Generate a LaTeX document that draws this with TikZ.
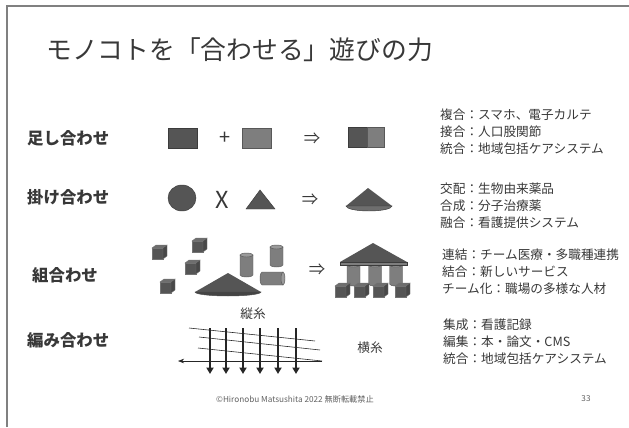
\documentclass[tikz,border=0pt]{standalone}
\usepackage{fontspec}
\setmainfont{Noto Sans CJK JP}
\usetikzlibrary{arrows.meta}

\definecolor{ink}{HTML}{383838}
\definecolor{darkblock}{HTML}{555555}
\definecolor{midblock}{HTML}{7E7E7E}
\definecolor{capface}{HTML}{9A9A9A}

\begin{document}
\begin{tikzpicture}[
	x=0.03cm, y=-0.03cm,
	>=Stealth,
	heading/.style={font=\fontsize{22}{26}\selectfont, text=ink, anchor=west, inner sep=0pt},
	kind/.style={font=\fontsize{14}{17}\selectfont\bfseries, text=ink, anchor=west, inner sep=0pt},
	examples/.style={font=\fontsize{10.8}{14.5}\selectfont, text=ink, anchor=west, align=left, inner sep=0pt},
	op/.style={font=\fontsize{14}{14}\selectfont, text=ink, inner sep=0pt},
	small/.style={font=\fontsize{7}{8}\selectfont, text=ink!80, inner sep=0pt},
	solid block/.style={fill=darkblock, draw=darkblock!70!black, line width=0.4pt},
	light block/.style={fill=midblock, draw=midblock!70!black, line width=0.4pt},
	warp/.style={-{Triangle[length=5.5pt, width=6pt]}, line width=1.6pt, draw=black!85},
	weft/.style={line width=0.5pt, draw=black!85},
	% cube: front bottom-left corner at the pic origin
	pics/block/.style={code={
		\filldraw[fill=darkblock, draw=black!55, line width=0.3pt] (0,0) rectangle (11,-11);
		\filldraw[fill=darkblock!85!white, draw=black!55, line width=0.3pt] (0,-11) -- (4,-14) -- (15,-14) -- (11,-11) -- cycle;
		\filldraw[fill=darkblock!85!black, draw=black!55, line width=0.3pt] (11,0) -- (15,-3) -- (15,-14) -- (11,-11) -- cycle;
	}},
	% upright cylinder: top centre at the pic origin, #1 = height
	pics/pillar/.style={code={
		\filldraw[light block] (-6.5,0) -- (-6.5,#1) arc (180:0:6.5 and 2) -- (6.5,0) -- cycle;
		\filldraw[fill=capface, draw=midblock!70!black, line width=0.4pt] (0,0) ellipse (6.5 and 2);
	}}
	]
	
	\useasboundingbox (0,0) rectangle (629,427);
	
	% Slide frame
	\draw[gray, line width=1.6pt] (7,427) -- (7,6) -- (629,6);
	
	% Title
	\node[heading] (title) at (46,50) {モノコトを「合わせる」遊びの力};
	
	% --- Row labels ---
	\node[kind] (add) at (27,138) {足し合わせ};
	\node[kind] (mult) at (27,197) {掛け合わせ};
	\node[kind] (assemble) at (32,275) {組合わせ};
	\node[kind] (weave) at (27,340) {編み合わせ};
	
	% --- ROW 1: two boxes side by side ---
	\filldraw[solid block] (168,128) rectangle (197,148);
	\node[op, font=\fontsize{17}{17}\selectfont] (plus) at (225,138) {+};
	\filldraw[light block] (242,128) rectangle (271,148);
	\node[op] (then1) at (312,139) {⇒};
	\filldraw[solid block] (348,127) rectangle (367,147);
	\filldraw[light block] (367,127) rectangle (384,147);
	
	% --- ROW 2: ball times triangle gives a cone ---
	\filldraw[solid block] (182,198) ellipse (14 and 13);
	\node[font=\fontsize{20}{20}\selectfont, text=ink, inner sep=0pt] (times) at (222,200) {X};
	\filldraw[solid block] (246,209) -- (260,190) -- (275,209) -- cycle;
	\node[op] (then2) at (310,200) {⇒};
	\fill[darkblock] (368,188) -- (346,206) -- (392,206) -- cycle;
	\filldraw[fill=darkblock!85!white, draw=darkblock!70!black, line width=0.4pt] (346,206) arc (180:0:23 and 5) -- cycle;
	
	% --- ROW 3: loose parts and the temple built from them ---
	\pic at (152,259) {block};
	\pic at (192,252) {block};
	\pic at (185,274) {block};
	\pic at (160,293) {block};
	
	\fill[darkblock] (228,273) -- (195,292) -- (261,292) -- cycle;
	\filldraw[fill=darkblock!80!black, draw=black!70, line width=0.4pt] (195,292) arc (180:0:33 and 4) -- cycle;
	
	\pic at (246.5,255) {pillar=20};
	\pic at (276.5,247) {pillar=18};
	% lying cylinder
	\filldraw[light block] (283,272) -- (262,272) arc (270:90:2 and 6.5) -- (283,285) -- cycle;
	\filldraw[fill=capface, draw=midblock!70!black, line width=0.4pt] (283,278.5) ellipse (2 and 6.5);
	
	\node[op] (then3) at (317,270) {⇒};
	
	% temple: columns, roof, then the footing blocks
	\foreach \cx in {353.5, 375, 396}
		\pic at (\cx,265) {pillar=19};
	\fill[darkblock] (373,243) -- (340,262) -- (407,262) -- cycle;
	\filldraw[fill=midblock, draw=darkblock!70!black, line width=0.4pt] (340,262) rectangle (407,265.5);
	\foreach \bx in {335, 354, 373, 395}
		\pic at (\bx,297) {block};
	
	% --- ROW 4: warp and weft ---
	\node[examples, anchor=center] (warp label) at (253,314) {縦糸};
	\node[examples, anchor=center] (weft label) at (370,348) {横糸};
	
	\draw[weft] (189,328) -- (315,341);
	\draw[weft] (199,337) -- (320,350);
	\draw[weft] (198,348) -- (322,361);
	\draw[weft, ->] (322,361) -- (178,361);
	
	\foreach \wx in {210, 226, 243, 260, 278, 296}
		\draw[warp] (\wx,328) -- (\wx,374);
	
	% --- Examples on the right ---
	\node[examples] (add list) at (440,132) {複合：スマホ、電子カルテ\\接合：人口股関節\\統合：地域包括ケアシステム};
	\node[examples] (mult list) at (440,206) {交配：生物由来薬品\\合成：分子治療薬\\融合：看護提供システム};
	\node[examples] (assemble list) at (442,272) {連結：チーム医療・多職種連携\\結合：新しいサービス\\チーム化：職場の多様な人材};
	\node[examples] (weave list) at (443,342) {集成：看護記録\\編集：本・論文・CMS\\統合：地域包括ケアシステム};
	
	% Footer
	\node[small] (credit) at (295,399) {©Hironobu Matsushita 2022 無断転載禁止};
	\node[small] (page) at (586,399) {33};
	
\end{tikzpicture}
\end{document}
